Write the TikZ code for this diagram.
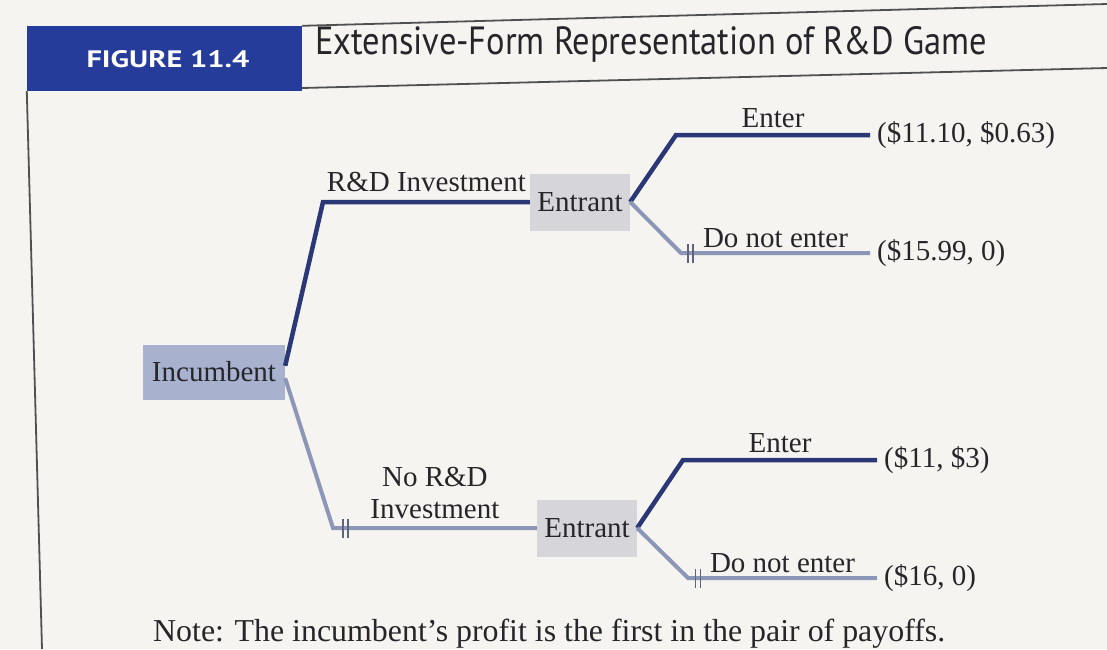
\documentclass[tikz,border=0pt]{standalone}
\usepackage{fontspec}
\usepackage{graphicx}
\setmainfont{Liberation Serif}
\newfontfamily\hdfont{PT Sans}
\definecolor{paper}{RGB}{246,244,241}
\definecolor{ink}{RGB}{38,38,42}
\definecolor{hdblue}{RGB}{38,60,155}
\definecolor{rulecol}{RGB}{80,80,82}
\definecolor{branchdark}{RGB}{42,56,118}
\definecolor{branchlight}{RGB}{140,150,182}
\definecolor{incfill}{RGB}{168,178,206}
\definecolor{entfill}{RGB}{214,214,218}
\definecolor{tickcol}{RGB}{95,100,125}
\begin{document}
\begin{tikzpicture}[x=1pt,y=-1pt,
  font=\fontsize{29}{32}\selectfont,
  darkbr/.style={draw=branchdark,line width=4.5pt},
  lightbr/.style={draw=branchlight,line width=4pt},
  incbox/.style={fill=incfill,minimum width=142pt,minimum height=55pt,inner sep=0pt,text=ink},
  entbox/.style={fill=entfill,minimum width=100pt,minimum height=57pt,inner sep=0pt,text=ink},
  lbl/.style={text=ink,inner sep=0pt},
  payoff/.style={anchor=west,inner xsep=7pt,inner ysep=0pt,text=ink},
  cutmark/.style={draw=tickcol,line width=1.6pt},
  rulestyle/.style={draw=rulecol,line width=1.8pt}]
\useasboundingbox[fill=paper] (0,0) rectangle (1107,649);

% header
\node[fill=hdblue,minimum width=275pt,minimum height=65pt,inner sep=0pt] (fig) at (164.5,58.5) {};
\node[inner sep=0pt,text=white] (figlbl) at (168,59) {\resizebox{163pt}{17pt}{\hdfont\bfseries FIGURE 11.4}};
\node[anchor=base west,inner sep=0pt,text=ink] (title) at (315,54) {\resizebox{672pt}{28pt}{\hdfont Extensive-Form Representation of R\&D Game}};
\coordinate (topend) at (1107,4);
\coordinate (botstart) at (302,88);
\coordinate (botend) at (1107,68);
\coordinate (leftend) at (42,649);
\draw[rulestyle] (fig.north east) -- (topend);
\draw[rulestyle] (botstart) -- (botend);
\draw[rulestyle] (fig.south west) -- (leftend);

% nodes
\node[incbox] (inc) at (214,372) {Incumbent};
\node[entbox] (e1) at (580,202) {Entrant};
\node[entbox] (e2) at (587,528) {Entrant};
\coordinate (c1) at (323,202);
\coordinate (c2) at (333,528);
\coordinate (c3) at (676,135);
\coordinate (c4) at (681,253);
\coordinate (c5) at (683,460);
\coordinate (c6) at (688,578);
\node[payoff] (p1) at (870,135) {(\$11.10, \$0.63)};
\node[payoff] (p2) at (870,253) {(\$15.99, 0)};
\node[payoff] (p3) at (877,460) {(\$11, \$3)};
\node[payoff] (p4) at (877,578) {(\$16, 0)};

% branches
\draw[darkbr] (inc.5) -- (c1) -- node[lbl,midway,above=8pt] (l1) {R\&D Investment} (e1.west);
\draw[lightbr] (inc.-5) -- (c2) -- coordinate[pos=0.06] (k1) node[lbl,midway,above=7pt,align=center] (l2) {No R\&D\\Investment} (e2.west);
\draw[darkbr] (e1.east) -- (c3) -- node[lbl,midway,above=5pt] (l3) {Enter} (p1.west);
\draw[lightbr] (e1.east) -- (c4) -- coordinate[pos=0.05] (k2) node[lbl,midway,above=3pt] (l4) {Do not enter} (p2.west);
\draw[darkbr] (e2.east) -- (c5) -- node[lbl,midway,above=5pt] (l5) {Enter} (p3.west);
\draw[lightbr] (e2.east) -- (c6) -- coordinate[pos=0.053] (k3) node[lbl,midway,above=3pt] (l6) {Do not enter} (p4.west);

% cut marks
\foreach \k in {k1,k2,k3}{
  \draw[cutmark] ([shift={(-2.5,-9)}]\k) -- ++(0,19);
  \draw[cutmark] ([shift={(2.5,-9)}]\k) -- ++(0,19);
}

% note
\node[anchor=base west,inner sep=0pt,text=ink] (note) at (153,641) {\resizebox{792pt}{!}{Note: The incumbent's profit is the first in the pair of payoffs.}};
\end{tikzpicture}
\end{document}
